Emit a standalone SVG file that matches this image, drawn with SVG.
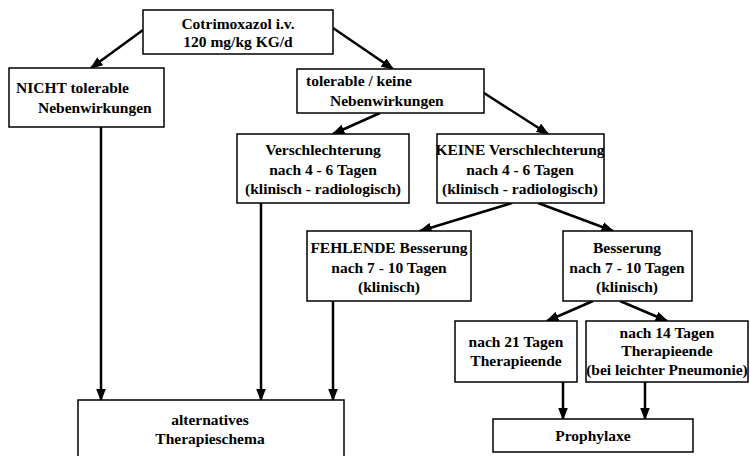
<svg xmlns="http://www.w3.org/2000/svg" width="750" height="456" viewBox="0 0 750 456">
<style>
  .box{fill:#fff;stroke:#000;stroke-width:1.5}
  text{font-family:'Liberation Serif','DejaVu Serif',serif;font-weight:bold;font-size:15.5px;fill:#000}
  .c{text-anchor:middle}
  .edge{stroke:#000;stroke-width:2.5;fill:none;marker-end:url(#ah)}
</style>
<defs>
  <marker id="ah" markerUnits="userSpaceOnUse" markerWidth="13" markerHeight="10" refX="11.5" refY="5" orient="auto">
    <path d="M0,0 L13,5 L0,10 z" fill="#000"/>
  </marker>
</defs>
<rect width="750" height="456" fill="#fff"/>

<g id="connectors">
  <line class="edge" x1="143" y1="30" x2="91" y2="68"/>
  <line class="edge" x1="333" y1="28" x2="393" y2="69"/>
  <line class="edge" x1="101" y1="127" x2="101" y2="400"/>
  <line class="edge" x1="380" y1="113" x2="333" y2="134"/>
  <line class="edge" x1="484" y1="93" x2="548" y2="134"/>
  <line class="edge" x1="261" y1="203" x2="261" y2="400"/>
  <line class="edge" x1="512" y1="203" x2="420" y2="231"/>
  <line class="edge" x1="538" y1="203" x2="613" y2="231"/>
  <line class="edge" x1="333" y1="301" x2="333" y2="400"/>
  <line class="edge" x1="593" y1="301" x2="547" y2="321"/>
  <line class="edge" x1="620" y1="301" x2="667" y2="321"/>
  <line class="edge" x1="563" y1="382" x2="563" y2="419"/>
  <line class="edge" x1="645" y1="382" x2="645" y2="419"/>
</g>

<g id="n_cotrimoxazol">
  <rect class="box" x="143" y="10" width="190" height="44"/>
  <text class="c" x="238" y="29" font-family="Liberation Serif, serif">Cotrimoxazol i.v.</text>
  <text class="c" x="238" y="47" font-family="Liberation Serif, serif">120 mg/kg KG/d</text>
</g>

<g id="n_nicht">
  <rect class="box" x="9" y="68" width="155" height="59"/>
  <text x="16" y="93">NICHT tolerable</text>
  <text x="38" y="113">Nebenwirkungen</text>
</g>

<g id="n_tolerable">
  <rect class="box" x="297" y="69" width="187" height="44"/>
  <text x="306" y="86">tolerable / keine</text>
  <text x="330" y="106">Nebenwirkungen</text>
</g>

<g id="n_verschlechterung">
  <rect class="box" x="237" y="134" width="172" height="69"/>
  <text class="c" x="323" y="155">Verschlechterung</text>
  <text class="c" x="323" y="175">nach 4 - 6 Tagen</text>
  <text class="c" x="323" y="194">(klinisch - radiologisch)</text>
</g>

<g id="n_keine">
  <rect class="box" x="437" y="134" width="167" height="69"/>
  <text class="c" x="520" y="155">KEINE Verschlechterung</text>
  <text class="c" x="520" y="175">nach 4 - 6 Tagen</text>
  <text class="c" x="520" y="194">(klinisch - radiologisch)</text>
</g>

<g id="n_fehlende">
  <rect class="box" x="307" y="231" width="164" height="70"/>
  <text class="c" x="389" y="253">FEHLENDE Besserung</text>
  <text class="c" x="389" y="273">nach 7 - 10 Tagen</text>
  <text class="c" x="389" y="292">(klinisch)</text>
</g>

<g id="n_besserung">
  <rect class="box" x="563" y="231" width="129" height="70"/>
  <text class="c" x="627" y="253">Besserung</text>
  <text class="c" x="627" y="273">nach 7 - 10 Tagen</text>
  <text class="c" x="627" y="292">(klinisch)</text>
</g>

<g id="n_21">
  <rect class="box" x="455" y="321" width="122" height="61"/>
  <text class="c" x="516" y="347">nach 21 Tagen</text>
  <text class="c" x="516" y="366">Therapieende</text>
</g>

<g id="n_14">
  <rect class="box" x="586" y="321" width="162" height="61"/>
  <text class="c" x="667" y="338">nach 14 Tagen</text>
  <text class="c" x="667" y="356">Therapieende</text>
  <text class="c" x="667" y="375">(bei leichter Pneumonie)</text>
</g>

<g id="n_prophylaxe">
  <rect class="box" x="493" y="419" width="200" height="33"/>
  <text class="c" x="593" y="441">Prophylaxe</text>
</g>

<g id="n_alternatives">
  <rect class="box" x="78" y="400" width="266" height="70"/>
  <text class="c" x="210" y="425">alternatives</text>
  <text class="c" x="210" y="444">Therapieschema</text>
</g>
</svg>
